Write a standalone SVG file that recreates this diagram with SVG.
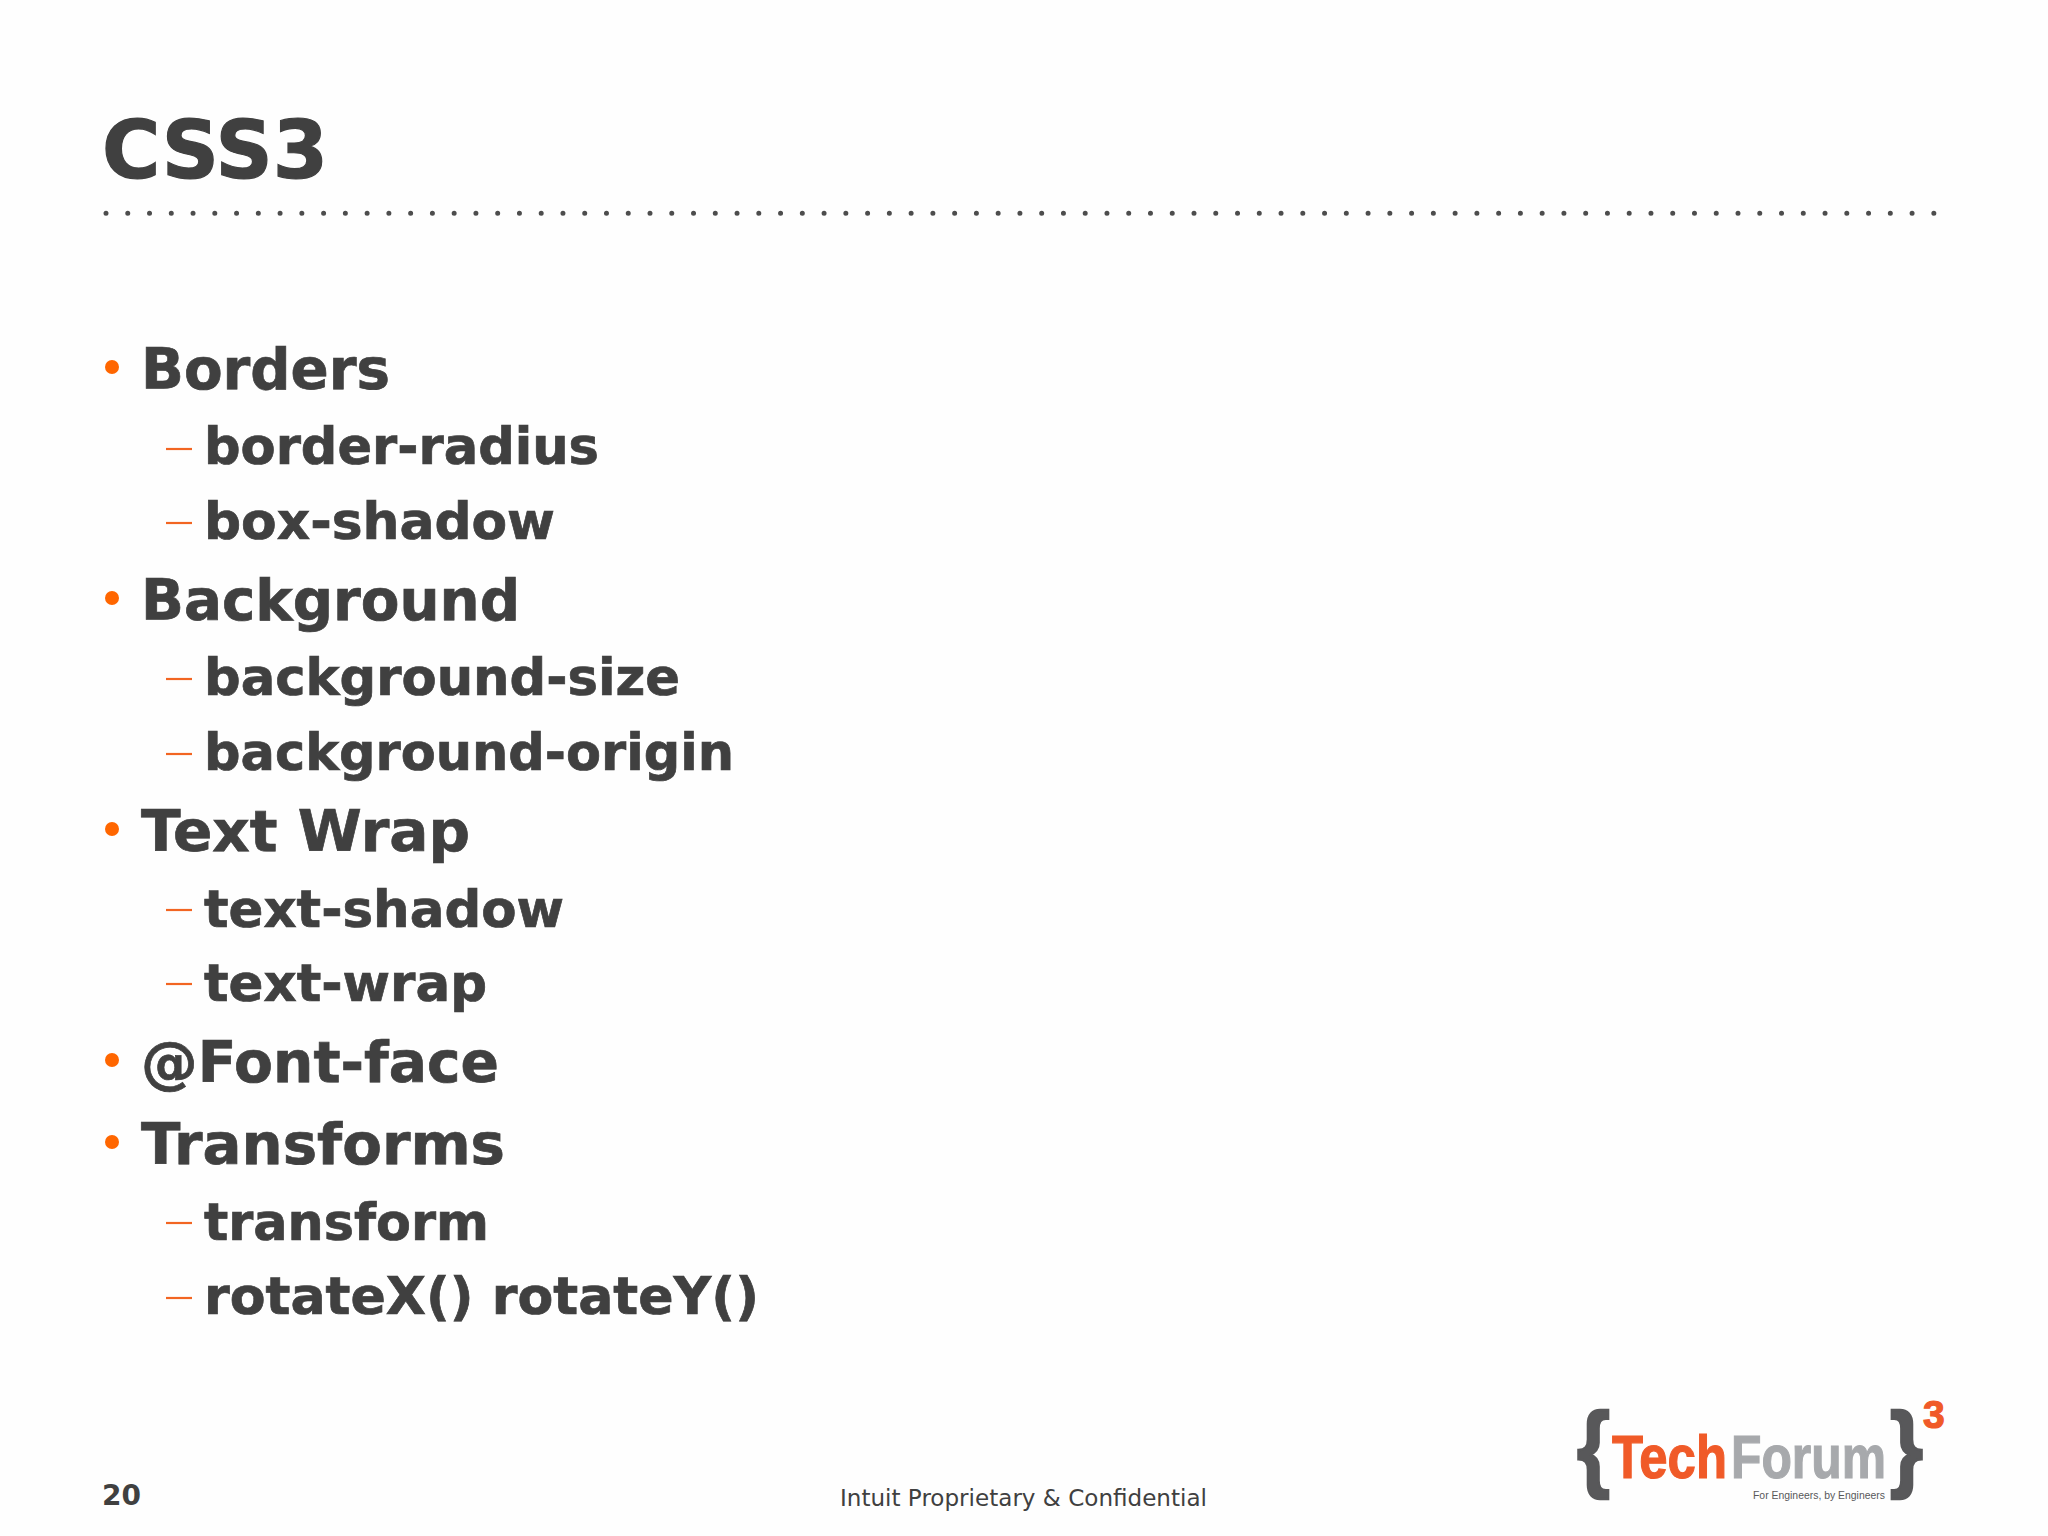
<svg xmlns="http://www.w3.org/2000/svg" width="2048" height="1536" viewBox="0 0 2048 1536">
<style>
text{font-family:"DejaVu Sans",Verdana,sans-serif;fill:#404040}
.h,.s,.t{font-weight:700;stroke:#404040;stroke-width:.7;paint-order:stroke}
.h{font-size:57px}
.s{font-size:51px}
.b{fill:#ff6600}
.d{stroke:#f26522;stroke-width:2.2}
.l{font-family:"Liberation Sans",Arial,sans-serif;font-weight:700}
.o{fill:#f05a28;stroke:#f05a28;stroke-width:1.2}
.g{fill:#a7a9ac;stroke:#a7a9ac;stroke-width:1.2}
.c{fill:#58585a;stroke:#58585a;stroke-width:2.5}
</style>
<rect width="2048" height="1536" fill="#fefefe"/>
<text class="t" x="102" y="178" font-size="80" textLength="226" lengthAdjust="spacingAndGlyphs" style="stroke-width:1.2">CSS3</text>
<line x1="106" y1="213.3" x2="1935" y2="213.3" stroke="#4d4d4d" stroke-width="5" stroke-linecap="round" stroke-dasharray="0 21.76"/>
<g id="list">
<circle class="b" cx="112" cy="367" r="7"/><text class="h" x="141" y="389" textLength="249" lengthAdjust="spacingAndGlyphs">Borders</text>
<line class="d" x1="166" x2="192" y1="449" y2="449"/><text class="s" x="204" y="463.5" textLength="395" lengthAdjust="spacingAndGlyphs">border-radius</text>
<line class="d" x1="166" x2="192" y1="523" y2="523"/><text class="s" x="204" y="538.5" textLength="351" lengthAdjust="spacingAndGlyphs">box-shadow</text>
<circle class="b" cx="112" cy="598" r="7"/><text class="h" x="141" y="620" textLength="379" lengthAdjust="spacingAndGlyphs">Background</text>
<line class="d" x1="166" x2="192" y1="679" y2="679"/><text class="s" x="204" y="694.5" textLength="476" lengthAdjust="spacingAndGlyphs">background-size</text>
<line class="d" x1="166" x2="192" y1="754" y2="754"/><text class="s" x="204" y="769.5" textLength="530" lengthAdjust="spacingAndGlyphs">background-origin</text>
<circle class="b" cx="112" cy="829" r="7"/><text class="h" x="141" y="851" textLength="329" lengthAdjust="spacingAndGlyphs">Text Wrap</text>
<line class="d" x1="166" x2="192" y1="910" y2="910"/><text class="s" x="204" y="926.5" textLength="360" lengthAdjust="spacingAndGlyphs">text-shadow</text>
<line class="d" x1="166" x2="192" y1="984" y2="984"/><text class="s" x="204" y="1000.5" textLength="283" lengthAdjust="spacingAndGlyphs">text-wrap</text>
<circle class="b" cx="112" cy="1060" r="7"/><text class="h" x="141" y="1082" textLength="358" lengthAdjust="spacingAndGlyphs">@Font-face</text>
<circle class="b" cx="112" cy="1142" r="7"/><text class="h" x="141" y="1164" textLength="364" lengthAdjust="spacingAndGlyphs">Transforms</text>
<line class="d" x1="166" x2="192" y1="1223" y2="1223"/><text class="s" x="204" y="1239.5" textLength="285" lengthAdjust="spacingAndGlyphs">transform</text>
<line class="d" x1="166" x2="192" y1="1298" y2="1298"/><text class="s" x="204" y="1313.5" textLength="555" lengthAdjust="spacingAndGlyphs">rotateX() rotateY()</text>
</g>
<text x="102" y="1505" font-size="28" font-weight="700">20</text>
<text x="840" y="1506" font-size="23" textLength="367" lengthAdjust="spacingAndGlyphs">Intuit Proprietary &amp; Confidential</text>
<g id="logo">
<text class="l c" x="1577" y="1479" font-size="94" textLength="33" lengthAdjust="spacingAndGlyphs">{</text>
<text class="l c" x="1890" y="1479" font-size="94" textLength="33" lengthAdjust="spacingAndGlyphs">}</text>
<text class="l o" x="1612" y="1478" font-size="62" textLength="115" lengthAdjust="spacingAndGlyphs">Tech</text>
<text class="l g" x="1731" y="1478" font-size="62" textLength="155" lengthAdjust="spacingAndGlyphs">Forum</text>
<text x="1753" y="1499" font-size="11" textLength="132" lengthAdjust="spacingAndGlyphs" style="font-family:'Liberation Sans',Arial,sans-serif;fill:#58585a">For Engineers, by Engineers</text>
<text class="l o" x="1923" y="1428" font-size="39">3</text>
</g>
</svg>
